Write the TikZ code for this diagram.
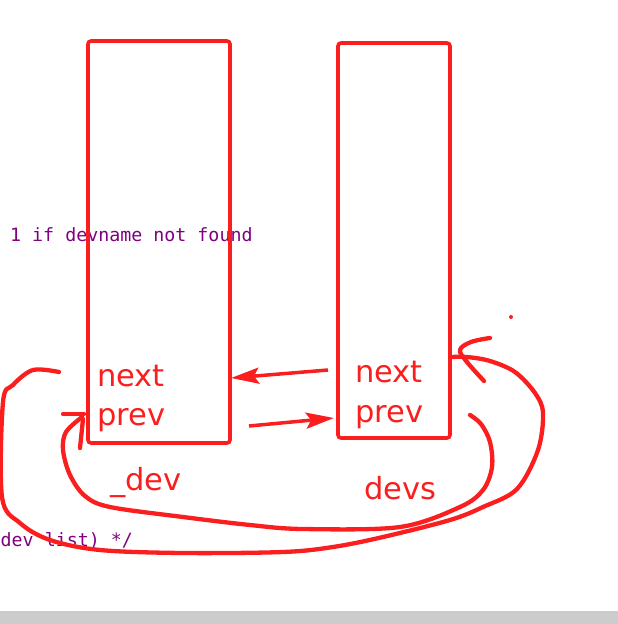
\documentclass[tikz,border=0pt]{standalone}
\usepackage{fontspec}
\setmainfont{DejaVu Sans}
\newfontfamily\codefont{DejaVu Sans Mono}
\usetikzlibrary{arrows.meta}
\definecolor{penred}{RGB}{250,30,30}
\definecolor{codepurple}{RGB}{128,0,128}
\definecolor{bargray}{RGB}{204,204,204}

\begin{document}
\begin{tikzpicture}[x=1pt,y=-1pt,
  listbox/.style={draw=penred, line width=3.6pt, rounded corners=3pt, inner sep=0pt, outer sep=0pt, anchor=north west},
  field/.style={anchor=base west, text=penred, inner sep=0pt, font=\fontsize{30.5}{36}\selectfont},
  code/.style={anchor=base west, text=codepurple, inner sep=0pt, font=\codefont\fontsize{18.3}{22}\selectfont},
  pen/.style={draw=penred, line width=4.3pt, line cap=round, line join=round},
  link/.style={draw=penred, line width=3.5pt, -{Stealth[length=28pt,width=16pt,inset=5pt]}}
]
\useasboundingbox (0,0) rectangle (618,624);
\fill[bargray] (0,611) rectangle (618,624);

% code behind the sketch
\node[code] (codeA) at (10,241) {1 if devname not found};
\node[code] (codeB) at (0.5,546) {dev list) */};

% the two entries
\node[listbox, minimum width=142pt, minimum height=402pt] (dev) at (88,41) {};
\node[listbox, minimum width=112pt, minimum height=395pt] (devs) at (338,43) {};

\node[field] (devnext) at (97,386) {next};
\node[field] (devprev) at (97,425) {prev};
\node[field] (devsnext) at (355,382) {next};
\node[field] (devsprev) at (355,422) {prev};
\node[field] (devname) at (110,490) {\_dev};
\node[field] (devsname) at (364,499) {devs};

% next / prev links
\coordinate (nextfrom) at (328,370);
\coordinate (nextto) at (231,378);
\coordinate (prevfrom) at (249,426);
\coordinate (prevto) at (334,418);
\draw[link] (nextfrom) -- (nextto);
\draw[link] (prevfrom) -- (prevto);

% outer loop: dev.prev round to devs.next
\draw[pen] plot[smooth, tension=0.55] coordinates {(59,372) (33,370) (13,385) (3,402) (2,497) (20,523) (50,540) (100,550) (183,553) (283,552) (333,547) (383,537) (450,520) (483,507) (517,489) (538,450) (543,413) (535,393) (515,372) (490,361) (467,357) (452,357)};
\draw[pen] plot[smooth, tension=0.6] coordinates {(490,338) (471,342) (460,350) (467,362) (484,381)};

% inner loop: devs.prev round to dev.prev
\draw[pen] plot[smooth, tension=0.55] coordinates {(470,415) (481,424) (490,442) (492,467) (483,490) (460,507) (400,527) (303,529) (250,525) (183,517) (110,507) (85,496) (70,475) (63,450) (66,432) (82,417)};
\draw[pen] (63,414) -- (84,414);
\draw[pen] (83,419) -- (80,448);

\fill[penred] (511,317) circle (2);
\end{tikzpicture}
\end{document}
